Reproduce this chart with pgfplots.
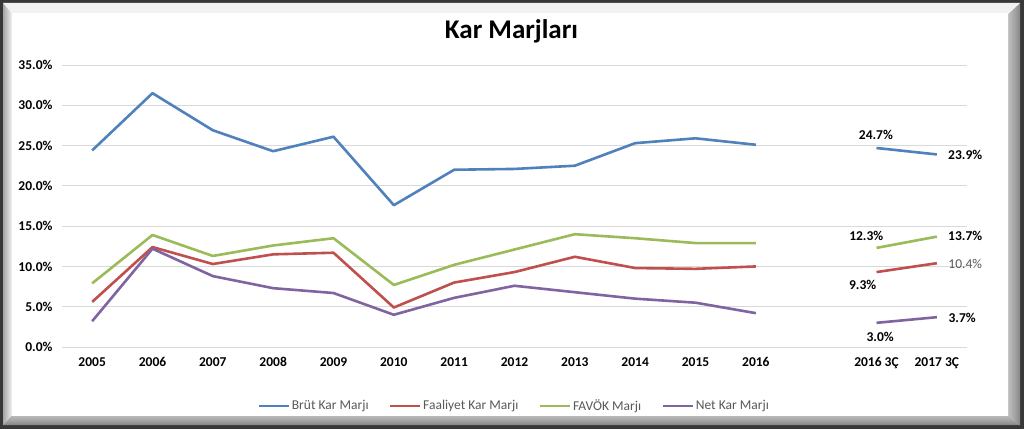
\documentclass[border=0pt]{standalone}
\usepackage{pgfplots}
\pgfplotsset{compat=1.18}
\usepackage{fontspec}
\setmainfont{Carlito}
\definecolor{cBlue}{HTML}{4F81BD}
\definecolor{cRed}{HTML}{C0504D}
\definecolor{cGreen}{HTML}{9BBB59}
\definecolor{cPurple}{HTML}{8064A2}
\definecolor{txtgray}{HTML}{595959}
\definecolor{gridc}{HTML}{D9D9D9}
\pgfdeclareverticalshading{face}{100bp}{color(0bp)=(black!22); color(14bp)=(white); color(86bp)=(white); color(100bp)=(black!13)}
\pgfdeclarehorizontalshading{rbevel}{100bp}{color(0bp)=(black!15); color(50bp)=(black!35); color(100bp)=(black!60)}
\pgfdeclareverticalshading{bbevel}{100bp}{color(0bp)=(black!60); color(50bp)=(black!35); color(100bp)=(black!18)}
\begin{document}
\begin{tikzpicture}
% frame
\fill[black!78] (0pt,0pt) rectangle (1024pt,429pt);
\fill[black!8] (3pt,4pt) rectangle (1020pt,426pt);
\shade[shading=rbevel] (1008pt,14pt) -- (1020pt,4pt) -- (1020pt,426pt) -- (1008pt,415pt) -- cycle;
\shade[shading=bbevel] (12pt,14pt) -- (3pt,4pt) -- (1020pt,4pt) -- (1008pt,14pt) -- cycle;
\fill[black!5] (3pt,426pt) -- (12pt,415pt) -- (1008pt,415pt) -- (1020pt,426pt) -- cycle;
\shade[left color=black!35, right color=black!5] (3pt,4pt) -- (12pt,14pt) -- (12pt,415pt) -- (3pt,426pt) -- cycle;
\shade[shading=face] (12pt,14pt) rectangle (1008pt,415pt);
% title
\node[anchor=base, font=\fontsize{27}{32}\selectfont\bfseries, text=black] at (511.5pt,390pt) {Kar Marjları};
\begin{axis}[
  at={(62pt,82pt)}, anchor=south west,
  scale only axis, width=905pt, height=282pt,
  xmin=-0.5, xmax=14.5, ymin=0, ymax=35,
  axis line style={draw=none},
  major tick length=0pt,
  ymajorgrids, grid style={gridc, line width=0.8pt},
  ytick={0,5,...,35},
  /pgf/number format/assume math mode=true,
  yticklabel={\pgfmathprintnumber[fixed,fixed zerofill,precision=1]{\tick}\%},
  yticklabel style={font=\fontsize{13.5}{16}\selectfont\bfseries, anchor=east, xshift=-6pt},
  xtick={0,1,2,3,4,5,6,7,8,9,10,11,13,14},
  xticklabels={2005,2006,2007,2008,2009,2010,2011,2012,2013,2014,2015,2016,2016 3Ç,2017 3Ç},
  xticklabel style={font=\fontsize{13.5}{16}\selectfont\bfseries, anchor=north, yshift=-7pt},
  unbounded coords=jump,
  every axis plot/.append style={line width=2.6pt, line join=round, mark=none},
  legend columns=-1,
  legend style={at={(0.4995,-0.209)}, anchor=center, draw=none, fill=none,
    font=\fontsize{13.5}{16}\selectfont, text=txtgray,
    /tikz/every even column/.append style={column sep=18pt}},
  legend image code/.code={\draw[#1, line width=2.6pt] (0pt,0pt) -- (30pt,0pt);},
  clip=false,
]
\addplot[cBlue] coordinates {(0,24.4) (1,31.5) (2,26.9) (3,24.3) (4,26.1) (5,17.6) (6,22.0) (7,22.1) (8,22.5) (9,25.3) (10,25.9) (11,25.1) (12,nan) (13,24.7) (14,23.9)};
\addlegendentry{Brüt Kar Marjı}
\addplot[cRed] coordinates {(0,5.6) (1,12.4) (2,10.3) (3,11.5) (4,11.7) (5,4.9) (6,8.0) (7,9.3) (8,11.2) (9,9.8) (10,9.7) (11,10.0) (12,nan) (13,9.3) (14,10.4)};
\addlegendentry{Faaliyet Kar Marjı}
\addplot[cGreen] coordinates {(0,7.9) (1,13.9) (2,11.3) (3,12.6) (4,13.5) (5,7.7) (6,10.2) (7,12.1) (8,14.0) (9,13.5) (10,12.9) (11,12.9) (12,nan) (13,12.3) (14,13.7)};
\addlegendentry{FAVÖK Marjı}
\addplot[cPurple] coordinates {(0,3.2) (1,12.2) (2,8.8) (3,7.3) (4,6.7) (5,4.0) (6,6.1) (7,7.6) (8,6.8) (9,6.0) (10,5.5) (11,4.2) (12,nan) (13,3.0) (14,3.7)};
\addlegendentry{Net Kar Marjı}
% data labels
\begin{scope}[every node/.style={font=\fontsize{13.5}{16}\selectfont\bfseries, text=black, inner sep=0pt}]
\node at (axis cs:12.99,26.3) {24.7\%};
\node at (axis cs:14.47,23.9) {23.9\%};
\node at (axis cs:12.83,13.8) {12.3\%};
\node at (axis cs:14.47,13.75) {13.7\%};
\node at (axis cs:12.77,7.75) {9.3\%};
\node[font=\fontsize{13.5}{16}\selectfont, text=txtgray] at (axis cs:14.47,10.35) {10.4\%};
\node at (axis cs:13.06,1.25) {3.0\%};
\node at (axis cs:14.42,3.6) {3.7\%};
\end{scope}
\end{axis}
\end{tikzpicture}
\end{document}
